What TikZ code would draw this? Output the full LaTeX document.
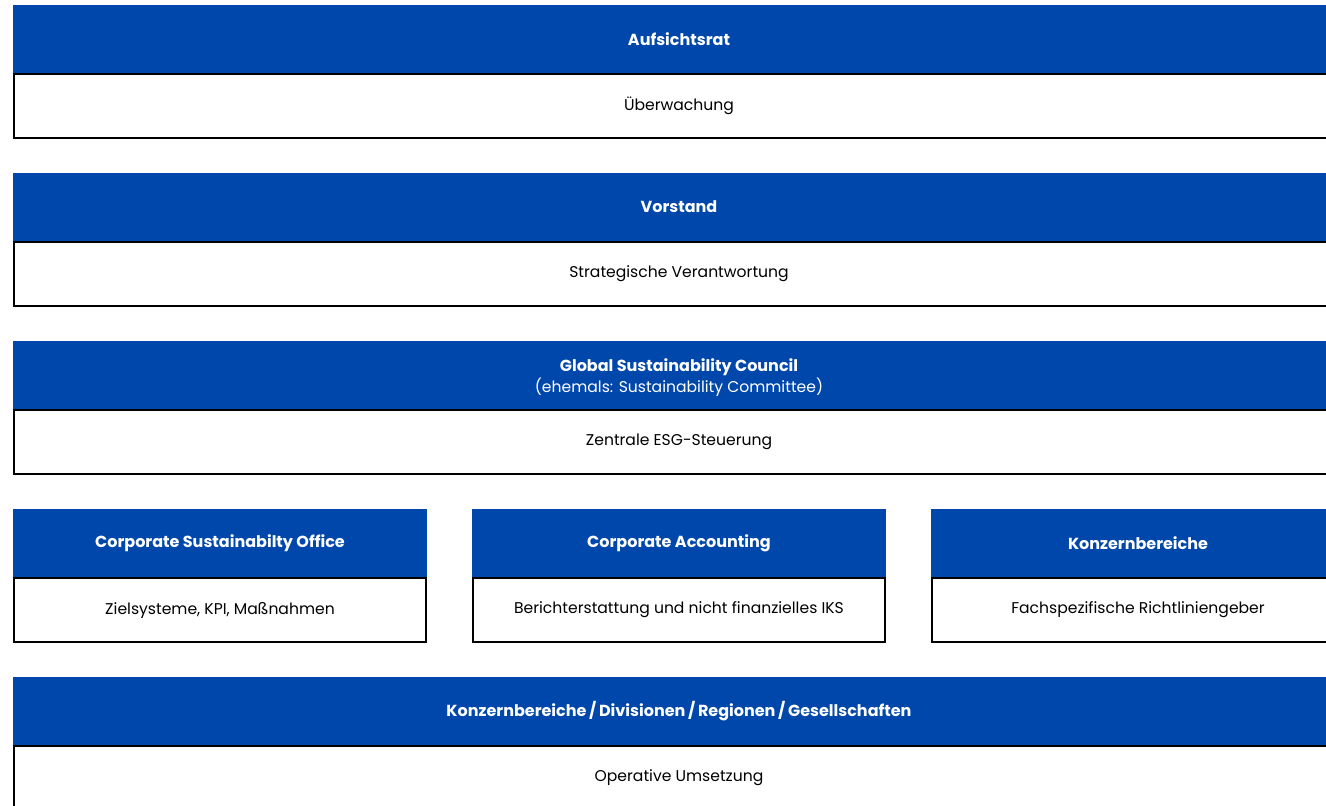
\documentclass[tikz,border=0pt]{standalone}
\usepackage{fontspec}
\setmainfont{Poppins}
\definecolor{headblue}{HTML}{0047AB}
\tikzset{
  headbox/.style={rectangle, fill=headblue, text=white, font=\fontsize{16}{21}\selectfont\bfseries,
    anchor=north west, inner sep=0pt, outer sep=0pt, minimum height=68pt, align=center},
  bodybox/.style={rectangle, draw=black, line width=2pt, fill=white, font=\fontsize{15.6}{20}\selectfont,
    anchor=north west, inner sep=0pt, minimum height=64pt, align=center},
}
\begin{document}
\begin{tikzpicture}[x=1pt,y=-1pt]
\useasboundingbox (0,0) rectangle (1326,806);
\clip (0,0) rectangle (1326,806);
% full-width tiers
\node[headbox, minimum width=1332pt] (h1) at (13,5) {Aufsichtsrat};
\node[bodybox, minimum width=1330pt] (b1) at (13,73) {Überwachung};
\node[headbox, minimum width=1332pt] (h2) at (13,173) {Vorstand};
\node[bodybox, minimum width=1330pt] (b2) at (13,241) {Strategische Verantwortung};
\node[headbox, minimum width=1332pt] (h3) at (13,341) {\rule{0pt}{18pt}Global Sustainability Council\\{\mdseries\fontsize{15.6}{21}\selectfont (ehemals: Sustainability Committee)}};
\node[bodybox, minimum width=1330pt] (b3) at (13,409) {Zentrale ESG-Steuerung};
% three functional units
\node[headbox, minimum width=414pt] (h4a) at (13,509) {Corporate Sustainabilty Office};
\node[bodybox, minimum width=412pt] (b4a) at (13,577) {Zielsysteme, KPI, Maßnahmen};
\node[headbox, minimum width=414pt] (h4b) at (472,509) {Corporate Accounting};
\node[bodybox, minimum width=412pt] (b4b) at (472,577) {Berichterstattung und nicht finanzielles IKS};
\node[headbox, minimum width=414pt] (h4c) at (931,509) {Konzernbereiche};
\node[bodybox, minimum width=412pt] (b4c) at (931,577) {Fachspezifische Richtliniengeber};
% operative tier
\node[headbox, minimum width=1332pt] (h5) at (13,677) {Konzernbereiche\,/\,Divisionen\,/\,Regionen\,/\,Gesellschaften};
\node[bodybox, minimum width=1330pt] (b5) at (13,745) {Operative Umsetzung};
\end{tikzpicture}
\end{document}
